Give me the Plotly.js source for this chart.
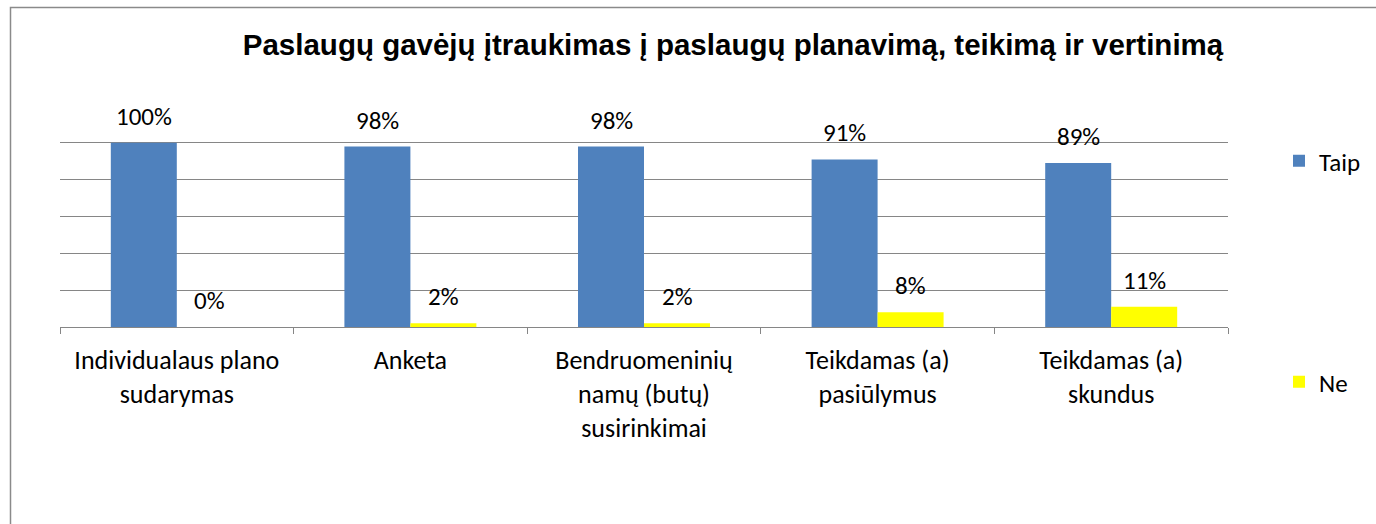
<!DOCTYPE html>
<html>
<head>
<meta charset="utf-8">
<script src="https://cdn.plot.ly/plotly-3.0.1.min.js"></script>
<style>html,body{margin:0;padding:0;background:#fff;}#chart{width:1376px;height:524px;}</style>
</head>
<body>
<div id="chart"></div>
<script>
const categories = [
  "Individualaus plano<br>sudarymas",
  "Anketa",
  "Bendruomeninių<br>namų (butų)<br>susirinkimai",
  "Teikdamas (a)<br>pasiūlymus",
  "Teikdamas (a)<br>skundus"
];
const taipValues = [1.00, 0.98, 0.98, 0.91, 0.89];
const neValues = [0.00, 0.02, 0.02, 0.08, 0.11];
const taipLabels = ["100%", "98%", "98%", "91%", "89%"];
const neLabels = ["0%", "2%", "2%", "8%", "11%"];
const seriesNames = ["Taip", "Ne"];

const W = 1376, H = 524;
const M = {l: 60, r: 148, t: 106, b: 197, autoexpand: false};
const pw = W - M.l - M.r, ph = H - M.t - M.b;
const px = v => (v - M.l) / pw;
const py = v => (H - M.b - v) / ph;

const FAM = "Carlito, Lato, 'Liberation Sans', sans-serif";
const tickFont = {family: FAM, size: 26, color: "#000"};
const labelFont = {family: FAM, size: 25, color: "#000"};
const legendFont = {family: FAM, size: 25, color: "#000"};

const traces = [
  {type: "bar", name: seriesNames[0], x: categories, y: taipValues,
   marker: {color: "#4F81BD"}, legend: "legend", hoverinfo: "skip"},
  {type: "bar", name: seriesNames[1], x: categories, y: neValues,
   marker: {color: "#FFFF00"}, legend: "legend2", hoverinfo: "skip"}
];

const annotations = [];
categories.forEach((c, i) => {
  annotations.push({x: c, y: taipValues[i], xref: "x", yref: "y", text: taipLabels[i],
    showarrow: false, xshift: -33, yshift: 9, yanchor: "bottom", font: labelFont});
  annotations.push({x: c, y: neValues[i], xref: "x", yref: "y", text: neLabels[i],
    showarrow: false, xshift: 33, yshift: 9, yanchor: "bottom", font: labelFont});
});

const layout = {
  width: W, height: H,
  margin: M,
  paper_bgcolor: "#fff", plot_bgcolor: "#fff",
  barmode: "group", bargap: 0.435, bargroupgap: 0,
  title: {text: "<b>Paslaugų gavėjų įtraukimas į paslaugų planavimą, teikimą ir vertinimą</b>",
    font: {family: "'Liberation Sans', Arial, sans-serif", size: 29.5, color: "#000"},
    x: px(733), xref: "paper", xanchor: "center", y: 1 - 45 / H, yanchor: "middle"},
  xaxis: {type: "category", showline: true, linecolor: "#868686", linewidth: 1,
    ticks: "outside", tickson: "boundaries", ticklen: 6, tickcolor: "#868686",
    ticklabelstandoff: 10,
    tickfont: tickFont, showgrid: false, zeroline: false, fixedrange: true},
  yaxis: {range: [0, 1.2], dtick: 0.2, showticklabels: false, showgrid: true,
    gridcolor: "#868686", gridwidth: 1, zeroline: false, showline: false, fixedrange: true},
  showlegend: true,
  legend: {x: px(1279), y: py(161), xanchor: "left", yanchor: "middle",
    font: legendFont, bgcolor: "rgba(0,0,0,0)"},
  legend2: {x: px(1279), y: py(382), xanchor: "left", yanchor: "middle",
    font: legendFont, bgcolor: "rgba(0,0,0,0)"},
  annotations: annotations,
  shapes: [{type: "rect", xref: "paper", yref: "paper",
    x0: px(10.5), x1: px(1400), y0: py(560), y1: py(7.5),
    line: {color: "#8a8a8a", width: 1.5}, fillcolor: "rgba(0,0,0,0)", layer: "below"}]
};

Plotly.newPlot("chart", traces, layout, {displayModeBar: false, staticPlot: true});
</script>
</body>
</html>
